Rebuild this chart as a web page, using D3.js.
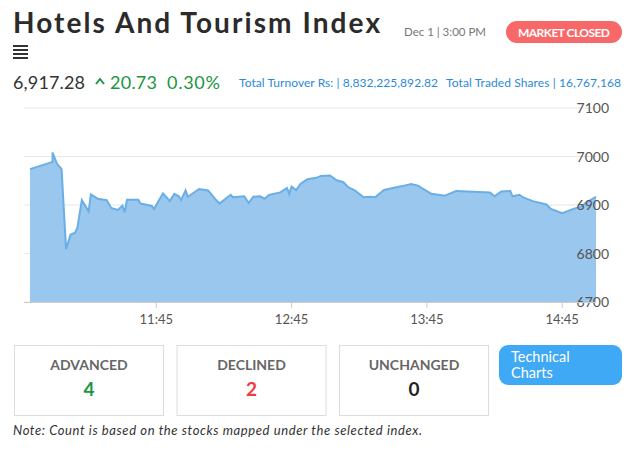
<!DOCTYPE html>
<html><head><meta charset="utf-8">
<script src="https://cdn.jsdelivr.net/npm/d3@7"></script>
<style>
body{margin:0;background:#fff;font-family:Lato,"Noto Sans",sans-serif;}
</style></head><body>
<svg id="chart" width="633" height="450"></svg>
<script>
// index values
var times = ["10:49","10:59","10:59","11:01","11:03","11:05","11:07","11:09","11:10","11:12","11:15","11:16","11:19","11:23","11:25","11:28","11:30","11:31","11:32","11:37","11:38","11:43","11:44","11:46","11:48","11:51","11:53","11:55","11:56","11:58","11:59","12:04","12:08","12:11","12:13","12:18","12:19","12:24","12:26","12:28","12:31","12:33","12:35","12:40","12:43","12:44","12:45","12:47","12:49","12:52","12:56","12:58","13:02","13:05","13:08","13:10","13:13","13:17","13:20","13:22","13:26","13:32","13:36","13:38","13:41","13:47","13:53","13:58","14:13","14:15","14:18","14:22","14:23","14:26","14:28","14:32","14:38","14:40","14:45","14:50","14:53","14:56","15:00"];
var values = [6974,6989,7008,6985,6974,6809,6839,6843,6853,6910,6887,6922,6913,6910,6894,6890,6899,6885,6911,6911,6903,6898,6892,6908,6924,6908,6923,6918,6910,6930,6917,6933,6930,6913,6903,6921,6916,6918,6904,6917,6918,6913,6921,6926,6935,6923,6938,6931,6944,6953,6956,6960,6961,6951,6947,6937,6930,6916,6917,6916,6931,6937,6941,6943,6940,6923,6919,6929,6926,6918,6928,6929,6918,6921,6915,6908,6901,6892,6883,6892,6896,6906,6917];
var yTicks = [6700,6800,6900,7000,7100];
var xTicks = ["11:45","12:45","13:45","14:45"];
var counts = [{label:"ADVANCED",value:4,color:"#1a9641"},{label:"DECLINED",value:2,color:"#f03c3c"},{label:"UNCHANGED",value:0,color:"#222"}];

var parse = d3.timeParse("%H:%M");
var data = times.map(function(t,i){return {t:parse(t),v:values[i]};});
var svg = d3.select("#chart");

var x = d3.scaleTime().domain([parse("10:49"),parse("15:00")]).range([30,596]);
var y = d3.scaleLinear().domain([6700,7100]).range([302,108]);

svg.append("text").attr("x",13).attr("y",33).attr("font-size",28).attr("font-weight",700).attr("fill","#2b2b2b")
	.attr("textLength",367).text("Hotels And Tourism Index");
svg.append("text").attr("x",404).attr("y",36).attr("font-size",11.5).attr("fill","#777").text("Dec 1 | 3:00 PM");
svg.append("rect").attr("x",506).attr("y",21).attr("width",116).attr("height",22).attr("rx",11).attr("fill","#f86868");
svg.append("text").attr("x",564).attr("y",36.5).attr("text-anchor","middle").attr("font-size",12).attr("font-weight",700).attr("fill","#fff")
	.attr("textLength",92).text("MARKET CLOSED");
[45,49,53,57].forEach(function(yy){
	svg.append("rect").attr("x",13).attr("y",yy).attr("width",15).attr("height",2).attr("fill","#333");
});

svg.append("text").attr("x",13).attr("y",89).attr("font-size",18).attr("fill","#333").attr("textLength",72).text("6,917.28");
svg.append("path").attr("d","M96,84 L100,79 L104,84").attr("fill","none").attr("stroke","#1a9641").attr("stroke-width",2);
svg.append("text").attr("x",110).attr("y",89).attr("font-size",18).attr("fill","#1a9641").attr("textLength",47).text("20.73");
svg.append("text").attr("x",167).attr("y",89).attr("font-size",18).attr("fill","#1a9641").attr("textLength",53).text("0.30%");
svg.append("text").attr("x",239).attr("y",87).attr("font-size",12).attr("fill","#2a8ad8").attr("textLength",199).text("Total Turnover Rs: | 8,832,225,892.82");
svg.append("text").attr("x",446).attr("y",87).attr("font-size",12).attr("fill","#2a8ad8").attr("textLength",175).text("Total Traded Shares | 16,767,168");

// grid
svg.append("g").selectAll("line").data(yTicks).enter().append("line")
	.attr("x1",24).attr("x2",596).attr("y1",function(d){return y(d);}).attr("y2",function(d){return y(d);})
	.attr("stroke","#e6e6e6");

var area = d3.area().x(function(d){return x(d.t);}).y0(y(6700)).y1(function(d){return y(d.v);});
var line = d3.line().x(function(d){return x(d.t);}).y(function(d){return y(d.v);});
svg.append("path").datum(data).attr("d",area).attr("fill","#99c7ee");
svg.append("path").datum(data).attr("d",line).attr("fill","none").attr("stroke","#6aaee6").attr("stroke-width",2);

svg.append("g").selectAll("text").data(yTicks).enter().append("text")
	.attr("x",609).attr("y",function(d){return y(d)+5;}).attr("text-anchor","end").attr("font-size",14).attr("fill","#555").text(function(d){return d;});

svg.append("line").attr("x1",24).attr("x2",596).attr("y1",302.5).attr("y2",302.5).attr("stroke","#ccc");
var xt = svg.append("g").selectAll("g").data(xTicks).enter().append("g");
xt.append("line").attr("x1",function(d){return x(parse(d));}).attr("x2",function(d){return x(parse(d));})
	.attr("y1",302).attr("y2",308).attr("stroke","#ccc");
xt.append("text").attr("x",function(d){return x(parse(d));}).attr("y",324).attr("text-anchor","middle")
	.attr("font-size",13).attr("fill","#555").text(function(d){return d;});

// count boxes
var box = svg.append("g").selectAll("g").data(counts).enter().append("g")
	.attr("transform",function(d,i){return "translate("+(14+i*162.5)+",345)";});
box.append("rect").attr("x",0.5).attr("y",0.5).attr("width",149).attr("height",70).attr("fill","#fff").attr("stroke","#ddd");
box.append("text").attr("x",75).attr("y",25).attr("text-anchor","middle").attr("font-size",14).attr("font-weight",700).attr("fill","#666").text(function(d){return d.label;});
box.append("text").attr("x",75).attr("y",51).attr("text-anchor","middle").attr("font-size",19).attr("font-weight",700).attr("fill",function(d){return d.color;}).text(function(d){return d.value;});

svg.append("rect").attr("x",499).attr("y",345).attr("width",123).attr("height",40).attr("rx",9).attr("fill","#3fa9f5");
svg.append("text").attr("x",511).attr("y",362).attr("font-size",14.5).attr("fill","#fff").text("Technical");
svg.append("text").attr("x",511).attr("y",378).attr("font-size",14.5).attr("fill","#fff").text("Charts");

svg.append("text").attr("x",13).attr("y",435).attr("font-size",13).attr("font-style","italic").attr("fill","#333")
	.attr("textLength",409).text("Note: Count is based on the stocks mapped under the selected index.");
</script>
</body></html>
